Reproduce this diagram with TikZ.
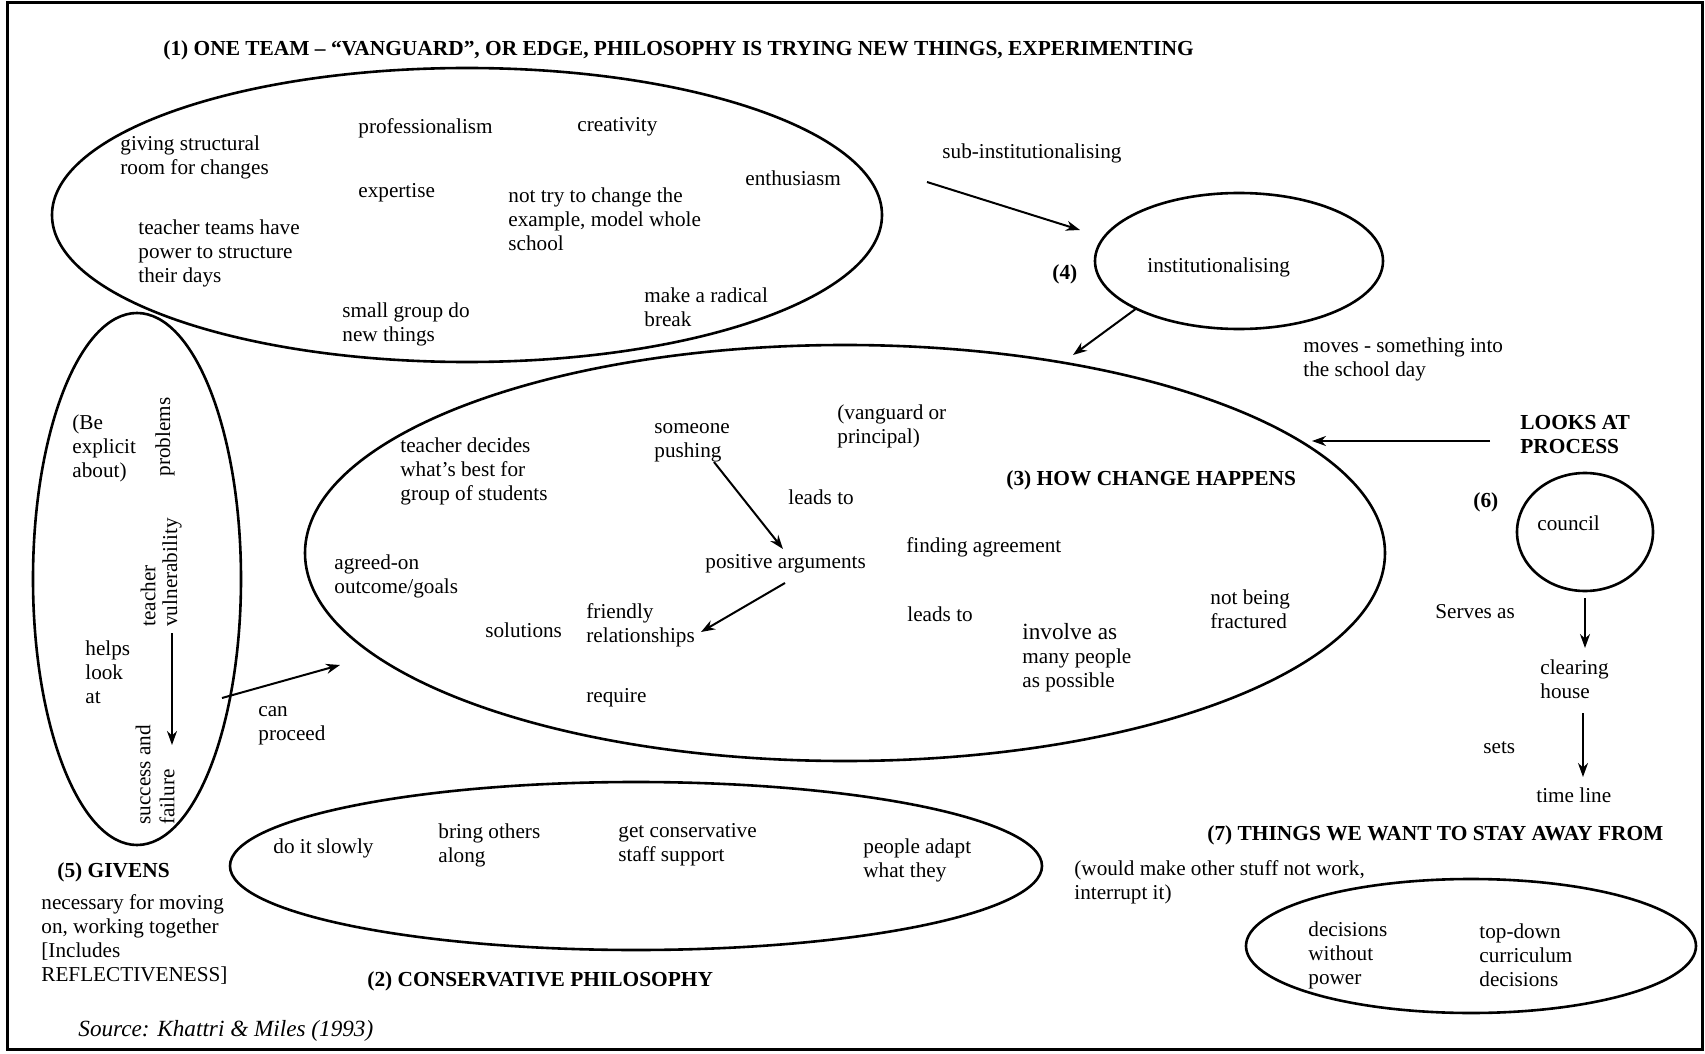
\documentclass[tikz,border=0pt]{standalone}
\usepackage{fontspec}
\setmainfont{Liberation Serif}
\usetikzlibrary{arrows.meta,shapes.geometric}
\begin{document}
\begin{tikzpicture}[x=0.5pt,y=-0.5pt,
  txt/.style={anchor=west,align=left,inner sep=0pt,font=\fontsize{10.6}{12}\selectfont},
  hd/.style={anchor=west,align=left,inner sep=0pt,font=\fontsize{10.7}{12}\selectfont\bfseries},
  ell/.style={draw,ellipse,line width=1.3pt,inner sep=0pt},
  arr/.style={line width=1pt,-{Stealth[length=7pt,width=5pt]}},
  rot/.style={txt,rotate=90},
]
\useasboundingbox (0,0) rectangle (1705,1054);
\draw[line width=1.5pt] (7,3) rectangle (1702,1049);

% (1) vanguard
\node[hd] (t1) at (163,50) {(1) ONE TEAM – “VANGUARD”, OR EDGE, PHILOSOPHY IS TRYING NEW THINGS, EXPERIMENTING};
\node[ell,minimum width=415pt,minimum height=147pt] (E1) at (467,215) {};
\node[txt] (prof) at (358,128) {professionalism};
\node[txt] (crea) at (577,127) {creativity};
\node[txt] (give) at (120,157) {giving structural\\room for changes};
\node[txt] (enth) at (745,178) {enthusiasm};
\node[txt] (expe) at (358,193) {expertise};
\node[txt] (nott) at (508,219) {not try to change the\\example, model whole\\school};
\node[txt] (team) at (138,253) {teacher teams have\\power to structure\\their days};
\node[txt] (smal) at (342,324) {small group do\\new things};
\node[txt] (radi) at (644,307) {make a radical\\break};

% (4) institutionalising
\node[txt] (subi) at (942,153) {sub-institutionalising};
\node[hd] (n4) at (1052,274) {(4)};
\node[ell,minimum width=144pt,minimum height=68pt] (E4) at (1239,261) {};
\node[txt] (inst) at (1147,267) {institutionalising};
\node[txt] (move) at (1303,359) {moves - something into\\the school day};
\coordinate (a1s) at (927,182);
\coordinate (a1e) at (1080,230);
\draw[arr] (a1s) -- (a1e);
\coordinate (a2s) at (1137,308);
\coordinate (a2e) at (1073,355);
\draw[arr] (a2s) -- (a2e);

% (3) how change happens
\node[ell,minimum width=540pt,minimum height=208pt] (E3) at (845,553) {};
\node[txt] (vang) at (837,426) {(vanguard or\\principal)};
\node[txt] (push) at (654,443) {someone\\pushing};
\node[txt] (tdec) at (400,471) {teacher decides\\what’s best for\\group of students};
\node[hd] (h3) at (1006,480) {(3) HOW CHANGE HAPPENS};
\node[txt] (lead1) at (788,497) {leads to};
\node[txt] (find) at (906,547) {finding agreement};
\node[txt] (agre) at (334,576) {agreed-on\\outcome/goals};
\node[txt] (posa) at (705,564) {positive arguments};
\node[txt] (frac) at (1210,609) {not being\\fractured};
\node[txt] (frie) at (586,625) {friendly\\relationships};
\node[txt] (solu) at (485,630) {solutions};
\node[txt] (lead2) at (907,614) {leads to};
\node[txt] (inv1) at (1022,632) {\fontsize{11.6}{12}\selectfont involve as};
\node[txt] (inv2) at (1022,670) {many people\\as possible};
\node[txt] (requ) at (586,698) {require};
\coordinate (a3s) at (714,462);
\coordinate (a3e) at (783,549);
\draw[arr] (a3s) -- (a3e);
\coordinate (a4s) at (785,583);
\coordinate (a4e) at (701,632);
\draw[arr] (a4s) -- (a4e);

% (5) givens
\node[ell,minimum width=104pt,minimum height=266pt] (E5) at (137,579) {};
\node[txt] (expl) at (72,448) {(Be\\explicit\\about)};
\node[rot,anchor=center] (prob) at (165,437) {problems};
\node[rot] (teac) at (148,627) {teacher};
\node[rot] (vuln) at (172,627) {vulnerability};
\node[txt] (help) at (85,672) {helps\\look\\at};
\node[rot] (succ) at (143,825) {success and};
\node[rot] (fail) at (167,825) {failure};
\coordinate (sfTop) at (172,745);
\draw[arr] ([yshift=-3pt]vuln.west) -- (sfTop);
\node[txt] (canp) at (258,726) {can\\proceed};
\coordinate (a5s) at (222,698);
\coordinate (a5e) at (340,665);
\draw[arr] (a5s) -- (a5e);
\node[hd] (h5) at (57,872) {(5) GIVENS};
\node[txt] (nece) at (41,939) {necessary for moving\\on, working together\\{[Includes}\\REFLECTIVENESS]};

% (2) conservative
\node[ell,minimum width=406pt,minimum height=84pt] (E2) at (636,866) {};
\node[txt] (slow) at (273,848) {do it slowly};
\node[txt] (brin) at (438,845) {bring others\\along};
\node[txt] (gets) at (618,845) {get conservative\\staff support};
\node[txt] (adap) at (863,860) {people adapt\\what they};
\node[hd] (h2) at (367,981) {(2) CONSERVATIVE PHILOSOPHY};
\node[txt,font=\fontsize{11.6}{13}\selectfont\itshape] (src) at (78,1031) {Source: Khattri \& Miles (1993)};

% (6) council
\node[hd] (look) at (1520,435) {LOOKS AT\\PROCESS};
\coordinate (a6s) at (1490,441);
\coordinate (a6e) at (1312,441);
\draw[arr] (a6s) -- (a6e);
\node[hd] (n6) at (1473,502) {(6)};
\node[ell,minimum width=68pt,minimum height=59pt] (E6) at (1585,532) {};
\node[txt] (coun) at (1537,523) {council};
\node[txt] (serv) at (1435,612) {Serves as};
\node[txt] (clea) at (1540,679) {clearing\\house};
\node[txt] (sets) at (1483,748) {sets};
\node[txt] (time) at (1536,795) {time line};
\coordinate (a7s) at (1585,598);
\coordinate (a7e) at (1585,648);
\draw[arr] (a7s) -- (a7e);
\coordinate (a8s) at (1583,713);
\coordinate (a8e) at (1583,777);
\draw[arr] (a8s) -- (a8e);

% (7) stay away
\node[hd] (h7) at (1207,835) {(7) THINGS WE WANT TO STAY AWAY FROM};
\node[txt] (woul) at (1074,882) {(would make other stuff not work,\\interrupt it)};
\node[ell,minimum width=225pt,minimum height=67pt] (E7) at (1471,946) {};
\node[txt] (dwp) at (1308,955) {decisions\\without\\power};
\node[txt] (tdc) at (1479,955) {top-down\\curriculum\\decisions};
\end{tikzpicture}
\end{document}
